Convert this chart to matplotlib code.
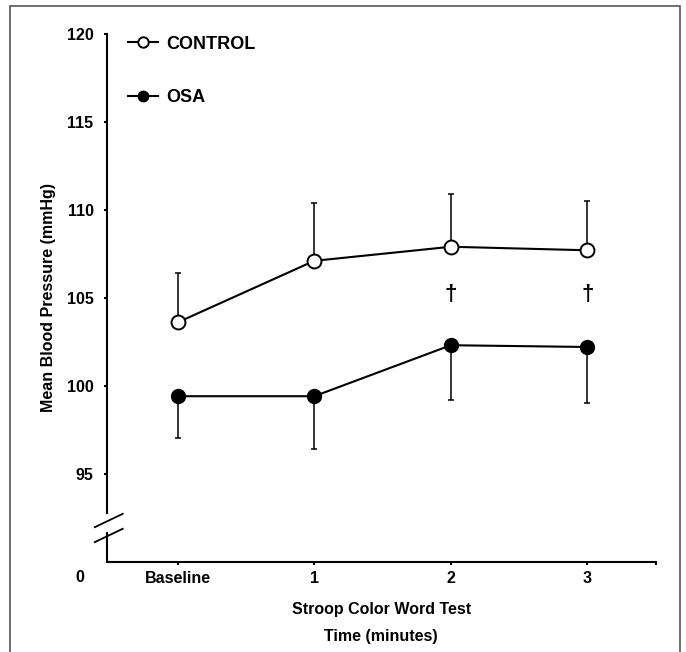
import matplotlib
matplotlib.use("Agg")
import matplotlib.pyplot as plt
from matplotlib.patches import Rectangle

plt.rcParams['font.family'] = ['Liberation Sans', 'DejaVu Sans']
plt.rcParams['font.weight'] = 'bold'

# ---- data ----
time_labels = ['Baseline', '1', '2', '3']
control_mean = [103.6, 107.1, 107.9, 107.7]
control_err = [2.8, 3.3, 3.0, 2.8]
osa_mean = [99.4, 99.4, 102.3, 102.2]
osa_err = [2.4, 3.0, 3.1, 3.2]
dagger_idx = [2, 3]
dagger_y = 105.2
yticks = [95, 100, 105, 110, 115, 120]

W, H = 686, 652
FS = 11.5
fig = plt.figure(figsize=(W / 100, H / 100), dpi=100)
ax = fig.add_axes([106.7 / W, 1 - 561.5 / H, 549 / W, 527.5 / H])

x = list(range(len(time_labels)))
lw = 1.5
# control: error up only
ax.errorbar(x, control_mean, yerr=[[0] * 4, control_err], fmt='none', ecolor='black',
            elinewidth=1.1, capsize=2.2, capthick=1.1, zorder=2)
ax.plot(x, control_mean, '-o', color='black', lw=lw, markersize=10,
        markerfacecolor='white', markeredgecolor='black', markeredgewidth=1.4,
        zorder=3, label='CONTROL')
# OSA: error down only
ax.errorbar(x, osa_mean, yerr=[osa_err, [0] * 4], fmt='none', ecolor='black',
            elinewidth=1.1, capsize=2.2, capthick=1.1, zorder=2)
ax.plot(x, osa_mean, '-o', color='black', lw=lw, markersize=10,
        markerfacecolor='black', markeredgecolor='black', zorder=3, label='OSA')

for i in dagger_idx:
    ax.text(x[i], dagger_y, '\u2020', ha='center', va='center', fontsize=16,
            fontweight='bold')

ax.set_xlim(-0.52, 3.5)
ax.set_ylim(90, 120)
ax.set_yticks(yticks)
ax.set_xticks(x + [3.5])
ax.set_xticklabels(time_labels + [''])

for s in ['top', 'right']:
    ax.spines[s].set_visible(False)
ax.spines['left'].set_linewidth(1.5)
ax.spines['bottom'].set_linewidth(1.5)
ax.spines['left'].set_bounds(92.73, 120)
ax.tick_params(axis='both', direction='out', length=2.5, width=1.5, labelsize=FS)
ax.tick_params(axis='y', pad=7)
ax.tick_params(axis='x', pad=4)

# lower spine segment and break marks
tr = ax.get_yaxis_transform()
ax.plot([0, 0], [90, 91.65], color='black', lw=1.5, transform=tr, clip_on=False,
        solid_capstyle='butt')
sx = 1 / 549.0  # axes fraction per pixel
for y0 in [92.33, 91.48]:
    ax.plot([-12 * sx, 16 * sx], [y0 - 0.38, y0 + 0.38], color='black', lw=1.3,
            transform=tr, clip_on=False)

# '0' label at the break
ax.text(-27 * sx, -16 / 527.5, '0', transform=ax.transAxes, ha='center',
        va='center', fontsize=FS, fontweight='bold')

ax.set_ylabel('Mean Blood Pressure (mmHg)', fontsize=FS, fontweight='bold', labelpad=8)
ax.set_xlabel('Stroop Color Word Test\nTime (minutes)', fontsize=FS,
              fontweight='bold', labelpad=12, linespacing=1.95)

leg = ax.legend(loc='upper left', bbox_to_anchor=(0.039, 0.997), frameon=False,
                prop={'size': 13, 'weight': 'bold'}, handlelength=1.65,
                handletextpad=0.45, labelspacing=2.03, borderpad=0,
                borderaxespad=0, markerscale=0.75)

# figure border
fig.patches.append(Rectangle((10 / W, -0.05), 670 / W, 1.05 - 6 / H,
                             transform=fig.transFigure, fill=False,
                             edgecolor='#555555', lw=1.2))

fig.savefig('out.png', dpi=100)
